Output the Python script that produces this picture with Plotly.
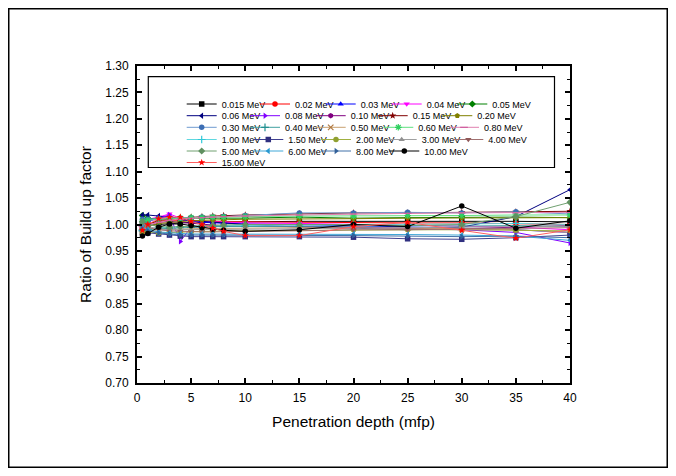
import plotly.graph_objects as go

# ---------------- data ----------------
depth = [0.5, 1, 2, 3, 4, 5, 6, 7, 8, 10, 15, 20, 25, 30, 35, 40]

labels = ["0.015 MeV", "0.02 MeV", "0.03 MeV", "0.04 MeV", "0.05 MeV",
          "0.06 MeV", "0.08 MeV", "0.10 MeV", "0.15 MeV", "0.20 MeV",
          "0.30 MeV", "0.40 MeV", "0.50 MeV", "0.60 MeV", "0.80 MeV",
          "1.00 MeV", "1.50 MeV", "2.00 MeV", "3.00 MeV", "4.00 MeV",
          "5.00 MeV", "6.00 MeV", "8.00 MeV", "10.00 MeV", "15.00 MeV"]

r_0015 = [1.000, 0.998, 1.000, 1.002, 1.003, 1.004, 1.004, 1.004, 1.005, 1.005, 1.006, 1.006, 1.007, 1.007, 1.006, 1.005]
r_002 = [0.995, 1.002, 1.006, 1.008, 1.008, 1.007, 1.006, 1.006, 1.005, 1.005, 1.004, 1.004, 1.003, 1.003, 1.002, 1.000]
r_003 = [1.002, 1.008, 1.012, 1.016, 1.010, 1.006, 1.004, 1.003, 1.002, 1.001, 1.000, 0.998, 0.996, 0.993, 0.990, 0.985]
r_004 = [1.004, 1.010, 1.014, 1.020, 1.012, 1.008, 1.006, 1.005, 1.004, 1.003, 1.002, 1.000, 0.998, 0.997, 0.995, 0.990]
r_005 = [1.017, 1.012, 1.010, 1.012, 1.012, 1.012, 1.012, 1.012, 1.012, 1.012, 1.014, 1.012, 1.013, 1.014, 1.014, 1.013]
r_006 = [1.018, 1.018, 1.016, 1.013, 1.010, 1.008, 1.006, 1.005, 1.003, 1.000, 0.995, 0.993, 0.990, 0.995, 1.015, 1.066]
r_008 = [1.000, 1.005, 1.012, 1.018, 0.968, 0.995, 0.996, 0.996, 0.997, 0.997, 0.997, 0.995, 0.993, 0.990, 0.985, 0.965]
r_010 = [0.997, 1.000, 1.004, 1.006, 1.004, 1.002, 1.000, 0.999, 0.998, 0.997, 0.996, 0.994, 0.993, 0.992, 0.995, 0.998]
r_015 = [0.990, 1.000, 1.008, 1.010, 1.012, 1.014, 1.015, 1.016, 1.017, 1.018, 1.020, 1.022, 1.022, 1.023, 1.024, 1.025]
r_020 = [0.992, 0.996, 1.002, 1.004, 1.006, 1.007, 1.008, 1.008, 1.009, 1.010, 1.010, 1.011, 1.012, 1.012, 1.012, 1.013]
r_030 = [1.010, 1.010, 1.011, 1.012, 1.012, 1.013, 1.014, 1.014, 1.015, 1.017, 1.022, 1.022, 1.023, 1.022, 1.024, 1.020]
r_040 = [0.988, 0.990, 0.992, 0.993, 0.994, 0.995, 0.995, 0.996, 0.996, 0.996, 0.997, 0.997, 0.998, 0.997, 0.998, 0.996]
r_050 = [0.986, 0.988, 0.990, 0.990, 0.991, 0.992, 0.992, 0.993, 0.993, 0.993, 0.994, 0.994, 0.993, 0.992, 0.990, 0.985]
r_060 = [1.006, 1.008, 1.010, 1.011, 1.012, 1.013, 1.013, 1.014, 1.014, 1.015, 1.016, 1.016, 1.017, 1.017, 1.018, 1.018]
r_080 = [0.996, 1.000, 1.004, 1.008, 1.010, 1.012, 1.013, 1.014, 1.015, 1.016, 1.018, 1.020, 1.021, 1.022, 1.022, 1.023]
r_100 = [0.990, 0.992, 0.994, 0.995, 0.996, 0.997, 0.997, 0.998, 0.998, 0.998, 0.999, 1.000, 1.000, 1.001, 1.002, 1.000]
r_150 = [0.985, 0.984, 0.982, 0.980, 0.978, 0.977, 0.977, 0.977, 0.977, 0.977, 0.977, 0.976, 0.973, 0.972, 0.975, 0.980]
r_200 = [0.985, 0.986, 0.984, 0.985, 0.986, 0.986, 0.987, 0.987, 0.988, 0.988, 0.989, 0.990, 0.990, 0.990, 0.989, 0.988]
r_300 = [0.998, 0.996, 0.992, 0.990, 0.990, 0.990, 0.990, 0.990, 0.991, 0.991, 0.992, 0.993, 0.994, 0.995, 0.996, 0.997]
r_400 = [0.996, 0.994, 0.990, 0.988, 0.987, 0.986, 0.986, 0.986, 0.986, 0.987, 0.988, 0.990, 0.990, 0.991, 0.992, 0.994]
r_500 = [1.005, 1.000, 0.996, 0.995, 0.996, 0.997, 0.998, 0.998, 0.999, 1.000, 1.000, 1.000, 0.998, 1.000, 1.015, 1.042]
r_600 = [0.994, 0.990, 0.986, 0.984, 0.983, 0.982, 0.982, 0.982, 0.982, 0.982, 0.982, 0.982, 0.981, 0.980, 0.978, 0.970]
r_800 = [0.992, 0.988, 0.984, 0.982, 0.980, 0.980, 0.980, 0.980, 0.980, 0.980, 0.980, 0.979, 0.978, 0.977, 0.978, 0.975]
r_1000 = [0.978, 0.983, 0.995, 1.001, 1.001, 0.998, 0.994, 0.991, 0.989, 0.987, 0.990, 1.000, 0.996, 1.035, 0.993, 1.007]
r_1500 = [0.989, 1.000, 1.011, 1.014, 1.014, 1.006, 1.000, 0.993, 0.987, 0.979, 0.979, 0.996, 1.004, 0.989, 0.974, 0.990]

series = [r_0015, r_002, r_003, r_004, r_005, r_006, r_008, r_010, r_015, r_020,
          r_030, r_040, r_050, r_060, r_080, r_100, r_150, r_200, r_300, r_400,
          r_500, r_600, r_800, r_1000, r_1500]

# ---------------- styles ----------------
line_colors = ["#000000", "#FF0000", "#0000FF", "#FF00FF", "#008000",
               "#000080", "#8000FF", "#800080", "#800000", "#808000",
               "#6F9AD0", "#40A0A0", "#C8A070", "#60E080", "#E080B0",
               "#60D8E0", "#404090", "#A0B040", "#A0A0A0", "#A07070",
               "#70A070", "#40A8D8", "#4070A8", "#000000", "#FF6060"]
marker_colors = ["#000000", "#FF0000", "#0000FF", "#FF00FF", "#008000",
                 "#000080", "#8000FF", "#800080", "#800000", "#808000",
                 "#3C6EB4", "#209090", "#B07840", "#30D060", "#D060A0",
                 "#30C8D8", "#303080", "#90A030", "#909090", "#905858",
                 "#609060", "#2898D0", "#305F98", "#000000", "#FF0000"]
symbols = ["square", "circle", "triangle-up", "triangle-down", "diamond",
           "triangle-left", "triangle-right", "hexagon", "star", "pentagon",
           "circle", "cross-thin-open", "x-thin-open", "asterisk-open", "line-ew-open",
           "cross-thin-open", "square", "circle", "triangle-up", "triangle-down",
           "diamond", "triangle-left", "triangle-right", "circle", "star"]

# Figure is placed at an 8 px page offset; pixel positions below are page pixels.
OFF = 8
W, H = 660, 460
L, R, T, B = 129, 98, 58, 85
PW, PH = W - L - R, H - T - B
row_y = [104, 115.7, 127.3, 139.5, 151, 162.5]
row_text_x = [[221.7, 295, 360.7, 426.7, 492.3],
              [221.7, 285, 350.7, 412.7, 477.3],
              [221.7, 285, 350.7, 418.3, 484],
              [221.7, 288.3, 356, 421.7, 488.3],
              [221.7, 288.3, 356, 424.3],
              [221.7]]


def px2x(p):
    return (p - OFF - L) / PW


def px2y(p):
    return (OFF + H - B - p) / PH


fig = go.Figure()
legend_layouts = {}
k = 0
for r, xs in enumerate(row_text_x):
    for tx in xs:
        name = "legend" if k == 0 else f"legend{k + 1}"
        is_open = symbols[k].endswith("-open")
        fig.add_trace(go.Scatter(
            x=depth, y=series[k], name=labels[k], mode="lines+markers",
            line=dict(color=line_colors[k], width=1),
            marker=dict(symbol=symbols[k], size=5.5,
                        color=marker_colors[k],
                        line=dict(color=marker_colors[k], width=1.2 if is_open else 0)),
            legend=name, showlegend=True,
        ))
        legend_layouts[name] = dict(
            x=px2x(tx - 40), y=px2y(row_y[r]), xanchor="left", yanchor="middle",
            bgcolor="rgba(0,0,0,0)", borderwidth=0,
            font=dict(family="Arial, Liberation Sans, sans-serif", size=9, color="#000000"),
            orientation="h", itemclick=False, itemdoubleclick=False,
        )
        k += 1

axis_common = dict(
    showline=True, linecolor="black", linewidth=2, mirror="allticks",
    ticks="inside", ticklen=5, tickwidth=1.5, tickcolor="black",
    showgrid=False, zeroline=False,
    tickfont=dict(family="Arial, Liberation Sans, sans-serif", size=12, color="black"),
    minor=dict(ticks="inside", ticklen=3, tickwidth=1.2, tickcolor="black", showgrid=False),
)

fig.update_layout(
    width=W, height=H,
    margin=dict(l=L, r=R, t=T, b=B, pad=0),
    paper_bgcolor="white", plot_bgcolor="white",
    font=dict(family="Arial, Liberation Sans, sans-serif", color="black"),
    xaxis=dict(axis_common, range=[0, 40], tick0=0, dtick=5, ticklabelstandoff=3,
               minor=dict(axis_common["minor"], dtick=2.5),
               title=dict(text="Penetration depth (mfp)",
                          font=dict(size=15.5, family="Arial, Liberation Sans, sans-serif"),
                          standoff=12)),
    yaxis=dict(axis_common, range=[0.70, 1.30], tick0=0.7, dtick=0.05, tickformat=".2f",
               ticklabelstandoff=4,
               minor=dict(axis_common["minor"], dtick=0.025),
               title=dict(text="Ratio of Build up factor",
                          font=dict(size=15.5, family="Arial, Liberation Sans, sans-serif"),
                          standoff=10)),
    shapes=[
        # legend frame
        dict(type="rect", xref="paper", yref="paper",
             x0=px2x(148.3), x1=px2x(554.5), y0=px2y(167.5), y1=px2y(76.7),
             line=dict(color="black", width=1.2), fillcolor="rgba(0,0,0,0)", layer="above"),
        # outer figure frame (figure edges)
        dict(type="rect", xref="paper", yref="paper",
             x0=px2x(OFF + 0.75), x1=px2x(OFF + W - 0.75),
             y0=px2y(OFF + H - 0.75), y1=px2y(OFF + 0.75),
             line=dict(color="black", width=1.5), fillcolor="rgba(0,0,0,0)", layer="above"),
    ],
    **legend_layouts,
)

fig.write_html("out.html")
